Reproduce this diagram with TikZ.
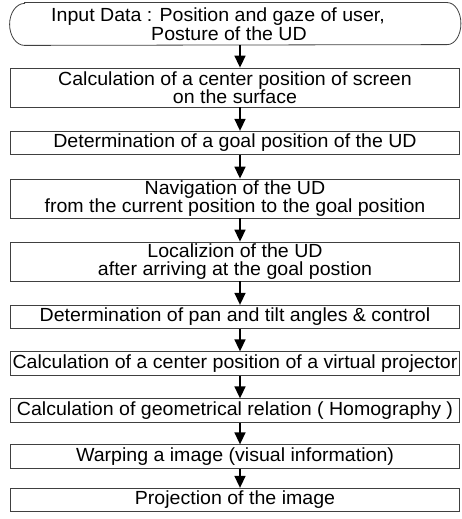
\documentclass[tikz,border=0pt]{standalone}
\usepackage{fontspec}
\setmainfont{Liberation Sans}[FakeStretch=1.03]
\usetikzlibrary{arrows.meta}
\begin{document}
\begin{tikzpicture}[x=1pt,y=-1pt,
  box/.style={draw=black!75,line width=0.8pt,minimum width=449pt,inner sep=0pt,align=center,font=\fontsize{19}{18.5}\selectfont},
  one/.style={box,minimum height=23.5pt},
  two/.style={box,minimum height=39pt},
  flow/.style={line width=1.6pt,-{Triangle[width=11pt,length=12pt]}}]
\useasboundingbox (0,0) rectangle (461,519);
\node[box,draw=none,minimum width=422pt,minimum height=42pt] (in) at (236,24) {Input Data : Position and gaze of user,\hspace*{36pt}\\Posture of the UD\hspace*{14pt}};	%输入
\draw[draw=black!75,line width=0.8pt] (in.north west) -- (in.north east) arc[start angle=90,end angle=-90,x radius=13.5pt,y radius=21pt] -- (in.south west) arc[start angle=270,end angle=90,x radius=15pt,y radius=21pt] -- cycle;
\node[two] (scr) at (235,87.5) {Calculation of a center position of screen\\on the surface};
\node[one] (goal) at (235,143) {Determination of a goal position of the UD};
\node[two] (nav) at (235,198.5) {Navigation of the UD\\from the current position to the goal position};
\node[two] (loc) at (235,261.5) {Localizion of the UD\\after arriving at the goal postion};
\node[one] (pan) at (235,317) {Determination of pan and tilt angles \& control};
\node[one] (vp) at (235,363.5) {Calculation of a center position of a virtual projector};
\node[one] (hom) at (235,410.5) {Calculation of geometrical relation ( Homography )};
\node[one] (warp) at (235,456.5) {Warping a image (visual information)};
\node[one] (proj) at (235,500) {Projection of the image};	%输出
\draw[flow] ([xshift=4pt]in.south) -- ([xshift=5pt]scr.north);
\draw[flow] ([xshift=5pt]scr.south) -- ([xshift=5pt]goal.north);
\draw[flow] ([xshift=5pt]goal.south) -- ([xshift=5pt]nav.north);
\draw[flow] ([xshift=5pt]nav.south) -- ([xshift=5pt]loc.north);
\draw[flow] ([xshift=5pt]loc.south) -- ([xshift=5pt]pan.north);
\draw[flow] ([xshift=5pt]pan.south) -- ([xshift=5pt]vp.north);
\draw[flow] ([xshift=5pt]vp.south) -- ([xshift=5pt]hom.north);
\draw[flow] ([xshift=5pt]hom.south) -- ([xshift=5pt]warp.north);
\draw[flow] ([xshift=5pt]warp.south) -- ([xshift=5pt]proj.north);
\end{tikzpicture}
\end{document}
